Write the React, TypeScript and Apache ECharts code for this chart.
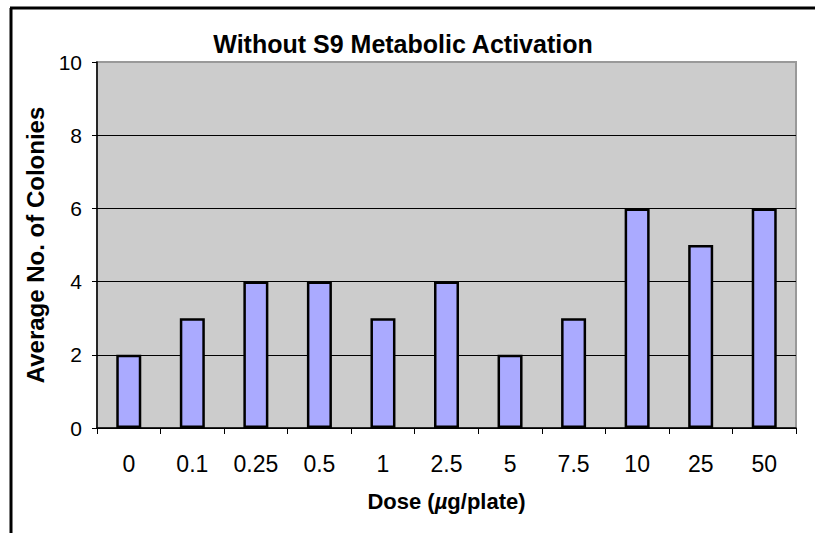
import React, { useEffect, useRef } from "react";
import * as echarts from "echarts";

const doses = ["0", "0.1", "0.25", "0.5", "1", "2.5", "5", "7.5", "10", "25", "50"];
const colonies = [2, 3, 4, 4, 3, 4, 2, 3, 6, 5, 6];
const yTicks = { min: 0, max: 10, interval: 2 };
const titleText = "Without S9 Metabolic Activation";
const yName = "Average No. of Colonies";

export default function App() {
  const ref = useRef<HTMLDivElement>(null);
  useEffect(() => {
    if (!ref.current) return;
    const chart = echarts.init(ref.current, null, { renderer: "svg" });
    const font = "'Liberation Sans', Arial, Helvetica, sans-serif";
    chart.setOption({
      animation: false,
      backgroundColor: "#FFFFFF",
      textStyle: { fontFamily: font },
      title: {
        text: titleText,
        left: 398,
        textAlign: "center",
        top: 26,
        textStyle: { fontFamily: font, fontSize: 25, fontWeight: "bold", color: "#000" },
      },
      grid: {
        left: 97,
        top: 62,
        width: 699,
        height: 366,
        show: true,
        backgroundColor: "#CCCCCC",
        borderColor: "#999999",
        borderWidth: 2,
      },
      xAxis: {
        type: "category",
        data: doses,
        name: "{b|Dose (}{i|µ}{b|g/plate)}",
        nameLocation: "middle",
        nameGap: 62,
        nameTextStyle: {
          rich: {
            b: { fontFamily: font, fontSize: 22, fontWeight: "bold", color: "#000" },
            i: { fontFamily: font, fontSize: 22, fontWeight: "bold", fontStyle: "italic", color: "#000" },
          },
        },
        axisLine: { lineStyle: { color: "#000", width: 1.5 } },
        axisTick: { show: true, length: 6, lineStyle: { color: "#000", width: 1 } },
        axisLabel: { fontFamily: font, fontSize: 23, color: "#000", margin: 24 },
      },
      yAxis: {
        type: "value",
        min: yTicks.min,
        max: yTicks.max,
        interval: yTicks.interval,
        name: yName,
        nameLocation: "middle",
        nameGap: 49,
        nameTextStyle: { fontFamily: font, fontSize: 24, fontWeight: "bold", color: "#000" },
        axisLine: { show: true, lineStyle: { color: "#000", width: 1.5 } },
        axisTick: { show: true, length: 5, lineStyle: { color: "#000", width: 1 } },
        axisLabel: { fontFamily: font, fontSize: 21, color: "#000", margin: 15 },
        splitLine: {
          show: true,
          lineStyle: { color: ["#000", "#000", "#000", "#000", "#000", "#999999"], width: 1 },
        },
      },
      series: [
        {
          type: "bar",
          data: colonies,
          barWidth: 25,
          itemStyle: { color: "#AAAAFF", borderColor: "#000", borderWidth: 2.5 },
        },
      ],
      graphic: [
        { type: "line", shape: { x1: 10, y1: 8, x2: 815, y2: 8 }, style: { stroke: "#000", lineWidth: 3 } },
        { type: "line", shape: { x1: 11, y1: 8, x2: 11, y2: 533 }, style: { stroke: "#000", lineWidth: 3 } },
      ],
    });
    return () => chart.dispose();
  }, []);
  return (
    <div
      ref={ref}
      style={{ position: "fixed", left: 0, top: 0, width: 817, height: 533 }}
    />
  );
}
